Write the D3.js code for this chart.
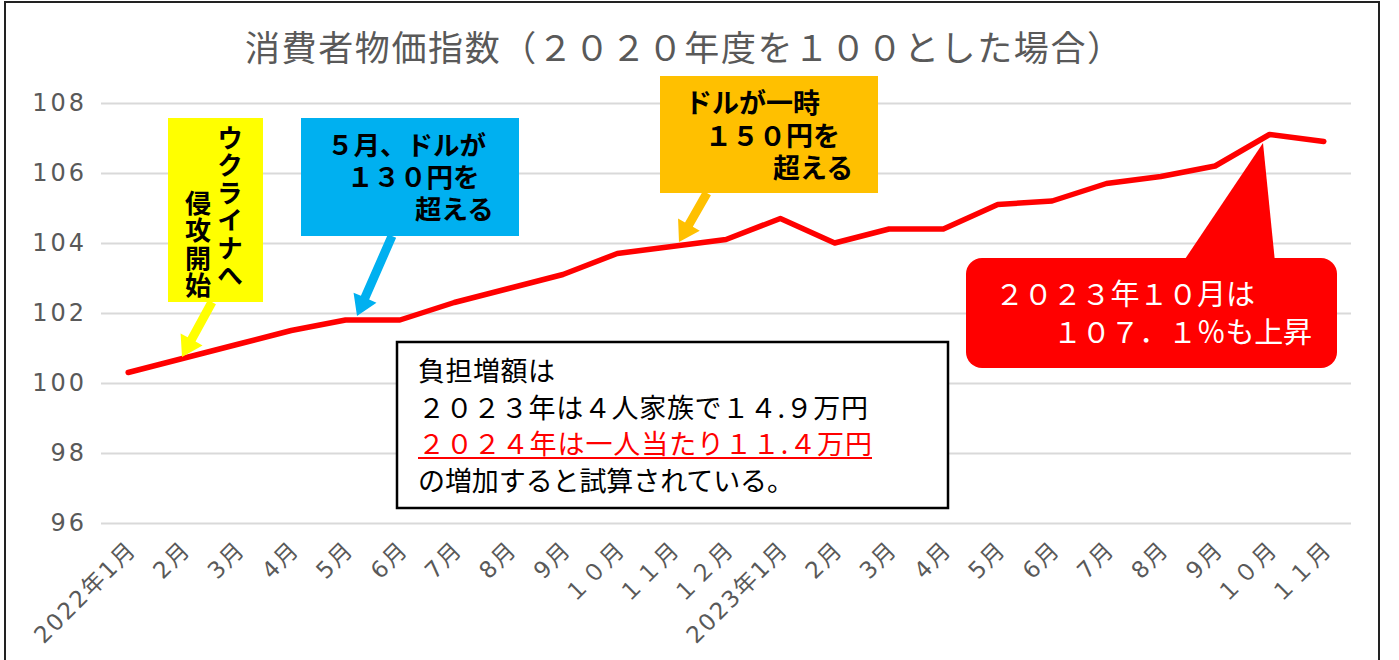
<!DOCTYPE html>
<html>
<head>
<meta charset="utf-8">
<script src="https://cdn.jsdelivr.net/npm/d3@7"></script>
<style>
  html, body { margin: 0; padding: 0; background: #fff; }
  svg { display: block; font-family: "Noto Sans CJK JP", sans-serif; }
</style>
</head>
<body>
<svg id="chart" width="1399" height="660"></svg>
<script>
// 消費者物価指数（2020年=100）, 2022年1月〜2023年11月
const categories = [
  "2022年1月", "2月", "3月", "4月", "5月", "6月", "7月", "8月", "9月", "１０月", "１１月", "１２月",
  "2023年1月", "2月", "3月", "4月", "5月", "6月", "7月", "8月", "9月", "１０月", "１１月"
];
const cpiValues = [
  100.3, 100.7, 101.1, 101.5, 101.8, 101.8, 102.3, 102.7, 103.1, 103.7, 103.9, 104.1,
  104.7, 104.0, 104.4, 104.4, 105.1, 105.2, 105.7, 105.9, 106.2, 107.1, 106.9
];
const yTicks = [96, 98, 100, 102, 104, 106, 108];
const titleText = "消費者物価指数（２０２０年度を１００とした場合）";
const memoLines = [
  "負担増額は",
  "２０２３年は４人家族で１４.９万円",
  "２０２４年は一人当たり１１.４万円",
  "の増加すると試算されている。"
];

(function () {
  "use strict";

  const svg = d3.select("#chart");
  const plot = { left: 101, right: 1351, top: 103, bottom: 523 };

  // frame
  svg.append("rect")
    .attr("x", 5).attr("y", 2).attr("width", 1374).attr("height", 670)
    .attr("fill", "#fff").attr("stroke", "#222").attr("stroke-width", 2);

  // title
  svg.append("text")
    .attr("x", 245).attr("y", 61)
    .attr("textLength", 877).attr("lengthAdjust", "spacing")
    .attr("fill", "#595959").style("font-size", "35px")
    .text(titleText);

  // scales
  const x = d3.scaleBand().domain(d3.range(categories.length)).range([plot.left, plot.right]);
  const y = d3.scaleLinear().domain([96, 108]).range([plot.bottom, plot.top]);
  const cx = i => x(i) + x.bandwidth() / 2;

  // y axis + grid
  const yAxis = svg.append("g")
    .attr("transform", `translate(${plot.left},0)`)
    .call(d3.axisLeft(y).tickValues(yTicks).tickSize(-(plot.right - plot.left)).tickPadding(14));
  yAxis.select(".domain").remove();
  yAxis.selectAll(".tick line").attr("stroke", "#d9d9d9").attr("stroke-width", 2);
  yAxis.selectAll(".tick text")
    .attr("fill", "#595959")
    .style("font-family", "'DejaVu Sans', sans-serif")
    .style("font-size", "24px")
    .style("letter-spacing", "3px");

  // x axis
  const xAxis = svg.append("g")
    .attr("transform", `translate(0,${plot.bottom})`)
    .call(d3.axisBottom(x).tickSize(0).tickFormat(i => categories[i]));
  xAxis.select(".domain").remove();
  xAxis.selectAll(".tick text")
    .attr("fill", "#595959")
    .attr("text-anchor", "end")
    .attr("y", 0).attr("dy", "0.35em")
    .attr("transform", "translate(4,22) rotate(-45)")
    .style("font-family", "'DejaVu Sans', 'Noto Sans CJK JP', sans-serif")
    .style("font-size", "23px")
    .style("letter-spacing", "2px");

  // series line
  const line = d3.line().x((d, i) => cx(i)).y(d => y(d));
  svg.append("path")
    .datum(cpiValues)
    .attr("fill", "none")
    .attr("stroke", "#ff0000")
    .attr("stroke-width", 5.5)
    .attr("stroke-linecap", "round")
    .attr("stroke-linejoin", "round")
    .attr("d", line);

  // arrow polygon from start to tip
  function arrow(x1, y1, x2, y2, color) {
    const dx = x2 - x1, dy = y2 - y1;
    const len = Math.hypot(dx, dy);
    const ux = dx / len, uy = dy / len, nx = -uy, ny = ux;
    const sw = 4.5, hw = 12.5, hl = 20;
    const bx = x2 - ux * hl, by = y2 - uy * hl;
    const pts = [
      [x1 + nx * sw, y1 + ny * sw], [bx + nx * sw, by + ny * sw], [bx + nx * hw, by + ny * hw],
      [x2, y2],
      [bx - nx * hw, by - ny * hw], [bx - nx * sw, by - ny * sw], [x1 - nx * sw, y1 - ny * sw]
    ];
    svg.append("polygon").attr("points", pts.map(p => p.join(",")).join(" ")).attr("fill", color);
  }

  // multi-line note as one text element with tspans
  function note(lines, size, color) {
    const t = svg.append("text")
      .attr("fill", color || "#000")
      .style("font-size", size + "px").style("font-weight", "bold");
    lines.forEach(([s, tx, ty]) => t.append("tspan").attr("x", tx).attr("y", ty).text(s));
  }

  // yellow note (vertical text)
  svg.append("rect").attr("x", 168).attr("y", 118).attr("width", 95).attr("height", 184).attr("fill", "#ffff00");
  [["ウクライナへ", 230, 125], ["侵攻開始", 198, 190]].forEach(([t, tx, ty]) => {
    svg.append("text")
      .attr("x", tx).attr("y", ty)
      .style("writing-mode", "vertical-rl")
      .style("font-size", "26px").style("font-weight", "bold")
      .style("letter-spacing", "1.5px")
      .text(t);
  });
  arrow(212, 302, 182, 357, "#ffff00");

  // blue note
  svg.append("rect").attr("x", 301).attr("y", 118).attr("width", 218).attr("height", 118).attr("fill", "#00b0f0");
  note([["５月、ドルが", 327, 155], ["１３０円を", 347, 187], ["超える", 415, 219]], 26.5);
  arrow(392, 236, 357, 316, "#00b0f0");

  // orange note
  svg.append("rect").attr("x", 660).attr("y", 76).attr("width", 218).attr("height", 117).attr("fill", "#ffc000");
  note([["ドルが一時", 685, 113], ["１５０円を", 705, 146], ["超える", 773, 178]], 27);
  arrow(707, 193, 679, 242, "#ffc000");

  // red callout
  svg.append("polygon").attr("points", "1183,262 1275,262 1263,143").attr("fill", "#ff0000");
  svg.append("rect").attr("x", 966).attr("y", 258).attr("width", 371).attr("height", 110)
    .attr("rx", 16).attr("fill", "#ff0000");
  svg.append("text").attr("x", 995).attr("y", 305)
    .attr("textLength", 260).attr("lengthAdjust", "spacing")
    .attr("fill", "#fff").style("font-size", "29px").text("２０２３年１０月は");
  svg.append("text").attr("x", 1053).attr("y", 343)
    .attr("textLength", 259).attr("lengthAdjust", "spacing")
    .attr("fill", "#fff").style("font-size", "29px").text("１０７．１％も上昇");

  // memo box
  svg.append("rect").attr("x", 397).attr("y", 342).attr("width", 551).attr("height", 166)
    .attr("fill", "#fff").attr("stroke", "#000").attr("stroke-width", 2.5);
  const memoY = [381, 418, 454, 491];
  const memoW = [137, 450, 454, 376];
  memoLines.forEach((t, k) => {
    svg.append("text").attr("x", 418).attr("y", memoY[k])
      .attr("textLength", memoW[k]).attr("lengthAdjust", "spacing")
      .attr("fill", k === 2 ? "#ff0000" : "#000")
      .style("font-size", "27px")
      .text(t);
  });
  svg.append("line").attr("x1", 418).attr("x2", 872).attr("y1", 458).attr("y2", 458)
    .attr("stroke", "#ff0000").attr("stroke-width", 2);
})();
</script>
</body>
</html>
